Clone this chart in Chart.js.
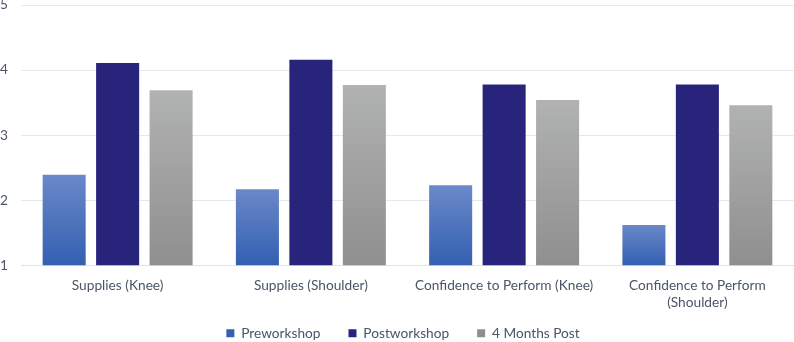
<!DOCTYPE html>
<html>
<head>
<meta charset="utf-8">
<script src="https://cdn.jsdelivr.net/npm/chart.js@4.4.1/dist/chart.umd.min.js"></script>
<style>
  html, body { margin: 0; padding: 0; background: #ffffff; }
  #wrap { width: 794px; height: 342px; position: relative; }
</style>
</head>
<body>
<div id="wrap"><canvas id="c" width="794" height="342"></canvas></div>
<script>
const categories = [
  "Supplies (Knee)",
  "Supplies (Shoulder)",
  "Confidence to Perform (Knee)",
  ["Confidence to Perform", "(Shoulder)"]
];
const seriesNames = ["Preworkshop", "Postworkshop", "4 Months Post"];
const preworkshop = [2.39, 2.17, 2.23, 1.62];
const postworkshop = [4.11, 4.16, 3.78, 3.78];
const fourMonthsPost = [3.69, 3.77, 3.54, 3.46];
const yTicks = [1, 2, 3, 4, 5];

function gradientFill(topColor, bottomColor, solid) {
  return function (context) {
    if (context.type !== 'data') return solid;
    const chart = context.chart;
    const y = chart.scales && chart.scales.y;
    if (!chart.chartArea || !y) return solid;
    const v = context.parsed ? context.parsed.y : context.raw;
    const yTop = y.getPixelForValue(v);
    const yBot = y.getPixelForValue(y.min);
    if (!isFinite(yTop) || !isFinite(yBot) || yTop === yBot) return solid;
    const g = chart.ctx.createLinearGradient(0, yTop, 0, yBot);
    g.addColorStop(0, topColor);
    g.addColorStop(1, bottomColor);
    return g;
  };
}

const textColor = '#4a5568';
const fontFamily = 'Lato, "Liberation Sans", sans-serif';

// Let the category labels overflow their (shortened) axis box, and nudge the legend.
const layoutTweaks = {
  id: 'layoutTweaks',
  afterLayout(chart) {
    if (chart.scales.x) chart.scales.x.bottom = chart.height;
    if (chart.legend) { chart.legend.left += 6; chart.legend.right += 6; }
  }
};

new Chart(document.getElementById('c'), {
  type: 'bar',
  data: {
    labels: categories,
    datasets: [
      {
        label: seriesNames[0],
        data: preworkshop,
        backgroundColor: gradientFill('#6b88c9', '#3360b1', '#4570bd'),
        borderWidth: 0
      },
      {
        label: seriesNames[1],
        data: postworkshop,
        backgroundColor: '#28247c',
        borderWidth: 0
      },
      {
        label: seriesNames[2],
        data: fourMonthsPost,
        backgroundColor: gradientFill('#b1b2b2', '#8f8f8f', '#a5a5a5'),
        borderWidth: 0
      }
    ]
  },
  plugins: [layoutTweaks],
  options: {
    responsive: false,
    animation: false,
    devicePixelRatio: 1,
    categoryPercentage: 0.83,
    barPercentage: 0.805,
    layout: { padding: { left: 0, right: 0, top: 0, bottom: -8 } },
    plugins: {
      tooltip: { enabled: false },
      legend: {
        position: 'bottom',
        labels: {
          color: textColor,
          font: { family: fontFamily, size: 13.7 },
          boxWidth: 8,
          boxHeight: 8,
          padding: 28
        }
      }
    },
    scales: {
      x: {
        grid: { display: false, drawTicks: false },
        border: { display: true, color: '#dfe3ea', width: 1 },
        ticks: {
          color: textColor,
          font: { family: fontFamily, size: 13.7, lineHeight: 1.3 },
          padding: 11,
          maxRotation: 0,
          autoSkip: false
        },
        afterFit: (axis) => { axis.height = 33; }
      },
      y: {
        min: 1,
        max: 5,
        afterBuildTicks: (axis) => { axis.ticks = yTicks.map(v => ({ value: v })); },
        grid: { color: '#e4e8ef', lineWidth: 1, drawTicks: false },
        border: { display: false },
        ticks: {
          color: textColor,
          font: { family: fontFamily, size: 13.7 },
          padding: 0,
          crossAlign: 'far'
        },
        afterFit: (axis) => { axis.width = 21; axis.paddingTop = 5; }
      }
    }
  }
});
</script>
</body>
</html>
